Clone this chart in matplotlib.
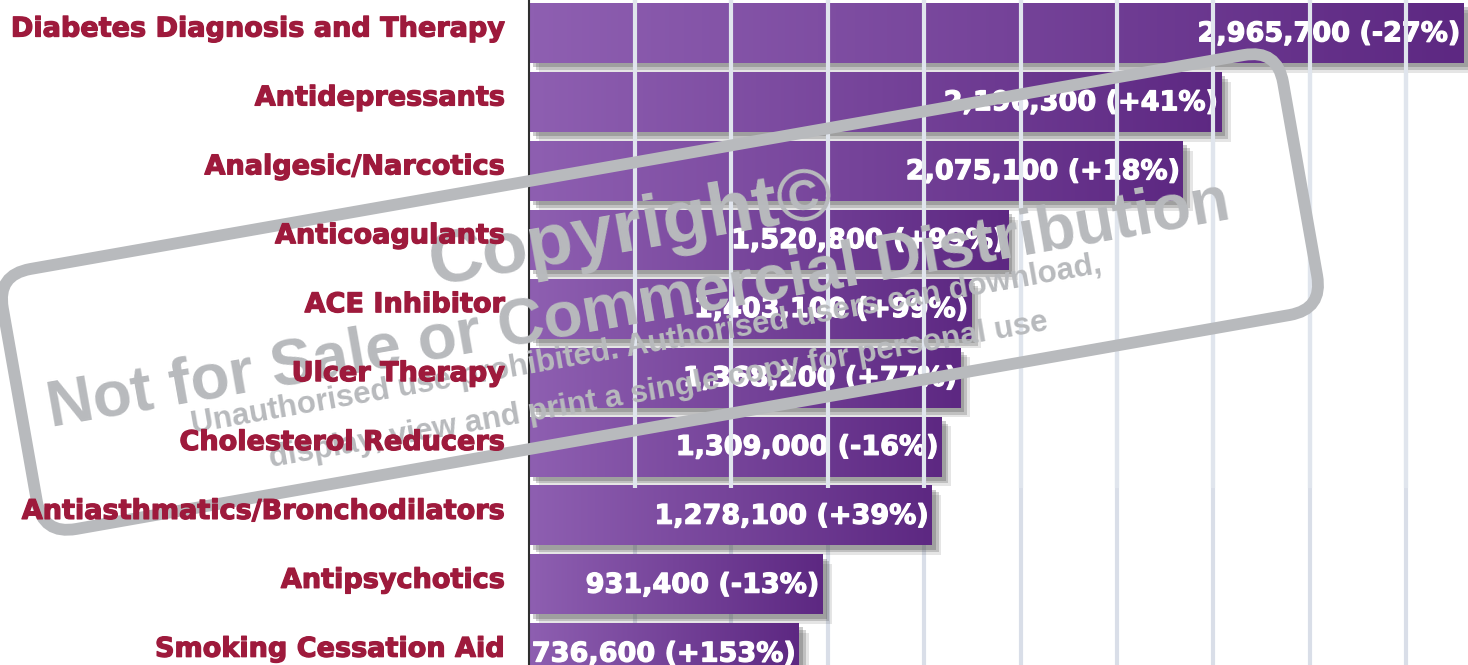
import numpy as np
import matplotlib
matplotlib.use("Agg")
import matplotlib.pyplot as plt
import matplotlib.patheffects as pe
from matplotlib.colors import LinearSegmentedColormap
from matplotlib.patches import FancyBboxPatch
from matplotlib.transforms import Affine2D, blended_transform_factory

# data (top to bottom)
categories = ["Diabetes Diagnosis and Therapy", "Antidepressants", "Analgesic/Narcotics",
              "Anticoagulants", "ACE Inhibitor", "Ulcer Therapy", "Cholesterol Reducers",
              "Antiasthmatics/Bronchodilators", "Antipsychotics", "Smoking Cessation Aid"]
volumes = [2965700, 2196300, 2075100, 1520800, 1403100, 1368200, 1309000, 1278100, 931400, 736600]
changes = ["-27%", "+41%", "+18%", "+99%", "+99%", "+77%", "-16%", "+39%", "-13%", "+153%"]

W, H = 1468, 665
label_red = "#9e1a3c"
stamp_grey = "#b8babd"
purple = LinearSegmentedColormap.from_list("purp", ["#8e5fb1", "#5d2882"])

fig = plt.figure(figsize=(W / 100, H / 100), dpi=100)
ax = fig.add_axes([529 / W, 0, 1 - 529 / W, 1])
xmax = 2.98e6
ymin, ymax = -0.48, 9.17
ax.set_xlim(0, xmax)
ax.set_ylim(ymax, ymin)

ypos = np.arange(len(categories))
bar_h = 0.87

# decorative vertical rules: behind the lower bars, over the upper ones
grid_x = np.arange(0.336e6, 2.9e6, 0.306e6)
ax.vlines(grid_x, ymin, ymax, color="#d9dee8", lw=3, zorder=0)
ax.vlines(grid_x, ymin, 6.6, color="#e0e5ed", lw=3, zorder=4)

renderer = fig.canvas.get_renderer()
inv = ax.transData.inverted()
pad = 0.009e6

# soft drop shadow: a few offset layers
shadow = [pe.SimplePatchShadow(offset=(o, -o), shadow_rgbFace="#555555", alpha=a)
          for o, a in [(7, 0.15), (5, 0.25), (3, 0.3)]] + [pe.Normal()]
heavy_white = [pe.withStroke(linewidth=0.9, foreground="white")]

for y, v, c in zip(ypos, volumes, changes):
    txt = ax.text(v - pad, y + 0.12, f"{v:,} ({c})", ha="right", va="baseline",
                  color="white", fontsize=19.5, fontweight="bold", zorder=3,
                  path_effects=heavy_white)
    bb = txt.get_window_extent(renderer)
    tw = inv.transform((bb.x1, 0))[0] - inv.transform((bb.x0, 0))[0]
    end = max(v, tw + 2 * pad)   # bar stretched so the label fits, like the original
    txt.set_x(end - pad)
    bar = ax.barh(y, end, height=bar_h, color="#6f3a94", zorder=1.9)[0]
    bar.set_path_effects(shadow)
    ax.imshow(np.linspace(0, 1, 256).reshape(1, -1), cmap=purple, aspect="auto",
              extent=(0, end, y + bar_h / 2, y - bar_h / 2), zorder=2, interpolation="bilinear")

ax.set_xlim(0, xmax)
ax.set_ylim(ymax, ymin)
for s in ["top", "right", "bottom"]:
    ax.spines[s].set_visible(False)
ax.spines["left"].set_color("#2e2e2e")
ax.spines["left"].set_linewidth(1.5)
ax.set_xticks([])
ax.set_yticks([])

# copyright stamp over the chart
wax = fig.add_axes([0, 0, 1, 1], zorder=2)
wax.set_xlim(0, W)
wax.set_ylim(H, 0)
wax.axis("off")
wax.patch.set_alpha(0)
cx, cy = 660, 292
stamp = FancyBboxPatch((cx - 650, cy - 132), 1300, 264, boxstyle="round,pad=0,rounding_size=34",
                       fill=False, ec=stamp_grey, lw=8.5)
stamp.set_transform(Affine2D().rotate_deg_around(cx, cy, -10) + wax.transData)
wax.add_patch(stamp)
wm = dict(color=stamp_grey, family="Liberation Sans", fontweight="bold", rotation=10,
          rotation_mode="anchor", ha="center", va="baseline")
wax.text(635, 250, "Copyright©", fontsize=54, **wm)
wax.text(642, 322, "Not for Sale or Commercial Distribution", fontsize=46, **wm)
wax.text(648, 353, "Unauthorised use prohibited. Authorised users can download,", fontsize=22.5, **wm)
wax.text(660, 398, "display, view and print a single copy for personal use", fontsize=22.5, **wm)

# category labels sit on top of the stamp
tr = blended_transform_factory(fig.transFigure, ax.transData)
heavy_red = [pe.withStroke(linewidth=0.9, foreground=label_red)]
for y, name in zip(ypos, categories):
    fig.text(505 / W, y + 0.05, name, transform=tr, ha="right", va="baseline",
             color=label_red, fontsize=19.5, fontweight="bold", zorder=3,
             path_effects=heavy_red)

fig.savefig("out.png", dpi=100)
